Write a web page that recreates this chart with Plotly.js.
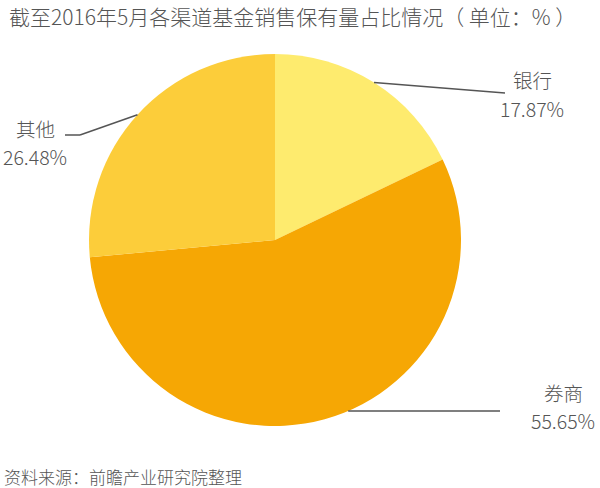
<!DOCTYPE html>
<html>
<head>
<meta charset="utf-8">
<script src="https://cdn.plot.ly/plotly-3.0.1.min.js"></script>
<style>
  html, body { margin: 0; padding: 0; background: #fff; }
  #chart { width: 600px; height: 488px; }
</style>
</head>
<body>
<div id="chart"></div>
<script>
// data
const channels = ["银行", "券商", "其他"];
const shares = [17.87, 55.65, 26.48];
const sliceColors = ["#FEEB6E", "#F6A704", "#FCCD3A"];

const titleText = "截至2016年5月各渠道基金销售保有量占比情况（ 单位：% ）";
const sourceText = "资料来源：前瞻产业研究院整理";

// label placement (pixels): end of the leader line, elbow, text centre
const labelLineEnd = [[505, 93], [500, 411], [65, 135]];
const labelElbow = [null, null, [80, 135]];
const labelCenter = [[532, 94], [563, 406], [35, 142]];
// 券商 leader is a flat line that starts where it meets the pie edge
const flatLeader = [false, true, false];

const W = 600, H = 488;
const cx = 275, cy = 240, R = 186;
const textColor = "#555555";
const font = "'Noto Sans CJK SC', 'Noto Sans', sans-serif";

function px(x) { return x / W; }
function py(y) { return 1 - y / H; }

// edge point at the middle of each slice (clockwise from 12 o'clock)
const total = shares.reduce((a, b) => a + b, 0);
let acc = 0;
const edgePoints = shares.map((v, i) => {
  const mid = (acc + v / 2) / total * 2 * Math.PI;
  acc += v;
  if (flatLeader[i]) {
    const dy = labelLineEnd[i][1] - cy;
    return [cx + Math.sqrt(R * R - dy * dy), labelLineEnd[i][1]];
  }
  return [cx + R * Math.sin(mid), cy - R * Math.cos(mid)];
});

const shapes = [];
const annotations = [];
channels.forEach((name, i) => {
  const pts = [edgePoints[i]];
  if (labelElbow[i]) pts.push(labelElbow[i]);
  pts.push(labelLineEnd[i]);
  for (let k = 0; k < pts.length - 1; k++) {
    shapes.push({
      type: "line", xref: "paper", yref: "paper",
      x0: px(pts[k][0]), y0: py(pts[k][1]),
      x1: px(pts[k + 1][0]), y1: py(pts[k + 1][1]),
      line: { color: textColor, width: 1.5 },
    });
  }
  // name above, percentage below
  [[name, -14], [shares[i].toFixed(2) + "%", 14]].forEach(([t, off]) => {
    annotations.push({
      xref: "paper", yref: "paper",
      x: px(labelCenter[i][0]), y: py(labelCenter[i][1] + off),
      xanchor: "center", yanchor: "middle",
      text: t, showarrow: false,
      borderpad: 0,
      font: { family: font, size: 19.5, color: textColor, weight: 300 },
    });
  });
});

annotations.push({
  xref: "paper", yref: "paper", x: px(2), y: py(476),
  xanchor: "left", yanchor: "middle", showarrow: false,
  text: sourceText,
  font: { family: font, size: 17, color: textColor, weight: 300 },
});

Plotly.newPlot(
  "chart",
  [
    {
      type: "pie",
      labels: channels,
      values: shares,
      sort: false,
      direction: "clockwise",
      rotation: 0,
      marker: { colors: sliceColors, line: { width: 0 } },
      textinfo: "none",
      hoverinfo: "label+percent",
      domain: { x: [px(cx - R), px(cx + R)], y: [py(cy + R), py(cy - R)] },
      showlegend: false,
    },
  ],
  {
    width: W,
    height: H,
    margin: { l: 0, r: 0, t: 0, b: 0 },
    paper_bgcolor: "#ffffff",
    title: {
      text: titleText,
      x: 0.015, xanchor: "left",
      y: py(18), yanchor: "middle",
      font: { family: font, size: 21, color: textColor, weight: 300 },
    },
    shapes,
    annotations,
  },
  { displayModeBar: false }
);
</script>
</body>
</html>
